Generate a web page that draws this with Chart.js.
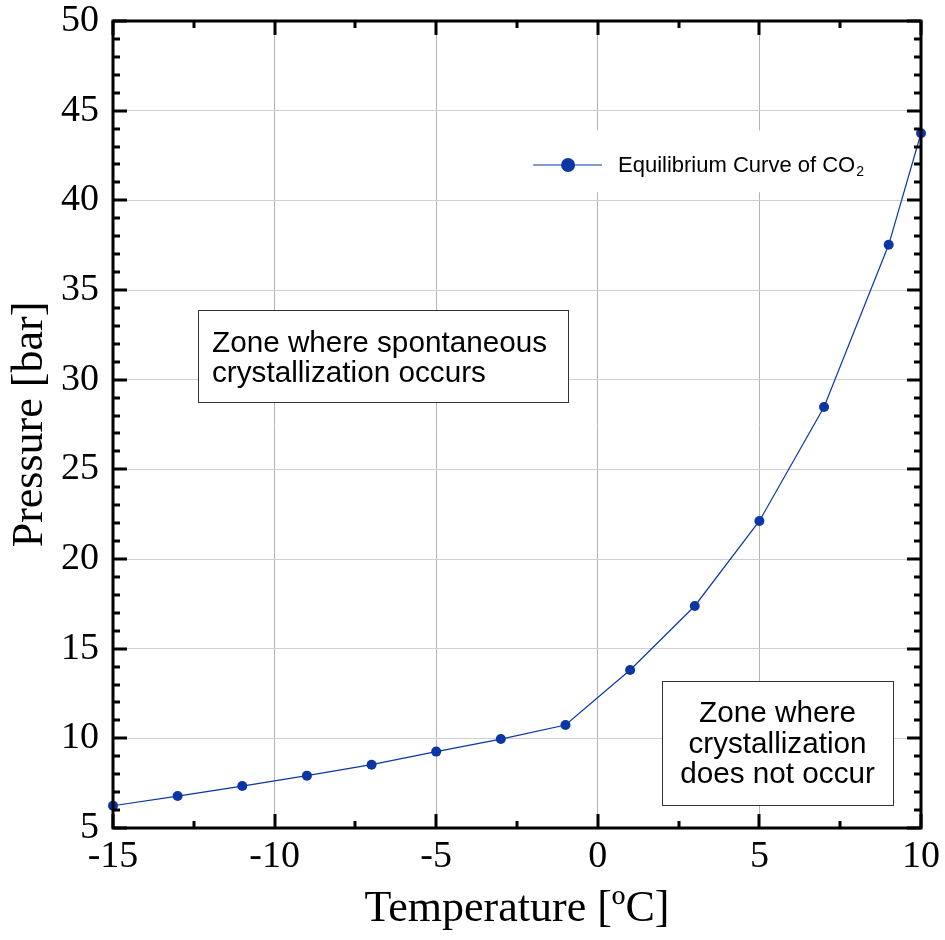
<!DOCTYPE html>
<html>
<head>
<meta charset="utf-8">
<script src="https://cdn.jsdelivr.net/npm/chart.js@4.4.0/dist/chart.umd.min.js"></script>
<style>
  html, body { margin: 0; padding: 0; background: #fff; }
</style>
</head>
<body>
<canvas id="co2Chart" width="945" height="940"></canvas>
<script>
// data
var temperatures = [-15, -13, -11, -9, -7, -5, -3, -1, 1, 3, 5, 7, 9, 10];
var pressures = [6.24, 6.78, 7.34, 7.92, 8.53, 9.26, 9.96, 10.74, 13.81, 17.38, 22.12, 28.48, 37.52, 43.74];
var seriesLabel = 'Equilibrium Curve of CO';
var seriesSub = '2';
var xTitle = 'Temperature [\u00baC]';
var yTitle = 'Pressure [bar]';
var zoneAbove = ['Zone where spontaneous', 'crystallization occurs'];
var zoneBelow = ['Zone where', 'crystallization', 'does not occur'];

var blue = '#0a37a3';
var serif = '"Liberation Serif", "Times New Roman", serif';
var sans = '"Liberation Sans", Arial, sans-serif';

// frame, inward ticks, zone boxes and legend
var decorPlugin = {
    id: 'decor',
    beforeDatasetsDraw: function (chart) {
        var ctx = chart.ctx, x = chart.scales.x, y = chart.scales.y;
        ctx.save();
        ctx.font = '29.7px ' + sans;
        ctx.strokeStyle = '#333';
        ctx.lineWidth = 1;
        ctx.textBaseline = 'alphabetic';

        // upper-left zone box
        var l = Math.round(x.getPixelForValue(-12.37)), r = Math.round(x.getPixelForValue(-0.92));
        var t = Math.round(y.getPixelForValue(33.9)), b = Math.round(y.getPixelForValue(28.76));
        ctx.fillStyle = '#fff';
        ctx.fillRect(l, t, r - l, b - t);
        ctx.strokeRect(l + 0.5, t + 0.5, r - l, b - t);
        ctx.fillStyle = '#000';
        ctx.textAlign = 'left';
        zoneAbove.forEach(function (line, i) {
            ctx.fillText(line, l + 14, t + 42 + i * 30);
        });

        // lower-right zone box
        l = Math.round(x.getPixelForValue(2.0)); r = Math.round(x.getPixelForValue(9.12));
        t = Math.round(y.getPixelForValue(13.2)); b = Math.round(y.getPixelForValue(6.29));
        ctx.fillStyle = '#fff';
        ctx.fillRect(l, t, r - l, b - t);
        ctx.strokeRect(l + 0.5, t + 0.5, r - l, b - t);
        ctx.fillStyle = '#000';
        ctx.textAlign = 'center';
        zoneBelow.forEach(function (line, i) {
            ctx.fillText(line, (l + r) / 2, t + 41 + i * 30.5);
        });

        // legend background
        var lx = x.getPixelForValue(-2.41), rx = x.getPixelForValue(8.73);
        var ly = y.getPixelForValue(43.9), by = y.getPixelForValue(40.45);
        ctx.fillStyle = '#fff';
        ctx.fillRect(lx, ly, rx - lx, by - ly);
        ctx.restore();
    },
    afterDraw: function (chart) {
        var ctx = chart.ctx, a = chart.chartArea, x = chart.scales.x, y = chart.scales.y;
        ctx.save();

        // legend entry
        var ds = chart.data.datasets[0];
        var cy = Math.round(y.getPixelForValue(41.98));
        ctx.strokeStyle = ds.borderColor;
        ctx.lineWidth = 1.2;
        ctx.beginPath();
        ctx.moveTo(x.getPixelForValue(-2.0), cy);
        ctx.lineTo(x.getPixelForValue(0.13), cy);
        ctx.stroke();
        ctx.fillStyle = ds.pointBackgroundColor;
        ctx.beginPath();
        ctx.arc(x.getPixelForValue(-0.92), cy, 7, 0, Math.PI * 2);
        ctx.fill();
        ctx.fillStyle = '#000';
        ctx.font = '22px ' + sans;
        ctx.textAlign = 'left';
        ctx.textBaseline = 'alphabetic';
        var tx = x.getPixelForValue(0.625);
        ctx.fillText(ds.label, tx, cy + 7);
        var w = ctx.measureText(ds.label).width;
        ctx.font = '14px ' + sans;
        ctx.fillText(seriesSub, tx + w + 1, cy + 11);

        // inward tick marks on all four sides
        ctx.strokeStyle = '#000';
        ctx.lineWidth = 3;
        ctx.lineCap = 'butt';
        ctx.beginPath();
        for (var v = x.min; v <= x.max + 0.001; v += 2.5) {
            var px = Math.round(x.getPixelForValue(v));
            var len = (Math.abs(v % 5) < 0.001) ? 14 : 7;
            ctx.moveTo(px, a.bottom); ctx.lineTo(px, a.bottom - len);
            ctx.moveTo(px, a.top); ctx.lineTo(px, a.top + len);
        }
        for (var u = y.min; u <= y.max + 0.001; u += 1) {
            var py = Math.round(y.getPixelForValue(u));
            var ln = (u % 5 === 0) ? 14 : 7;
            ctx.moveTo(a.left, py); ctx.lineTo(a.left + ln, py);
            ctx.moveTo(a.right, py); ctx.lineTo(a.right - ln, py);
        }
        ctx.stroke();

        // frame
        ctx.strokeRect(a.left, a.top, a.right - a.left, a.bottom - a.top);
        ctx.restore();
    }
};

var ctx = document.getElementById('co2Chart').getContext('2d');
new Chart(ctx, {
    type: 'line',
    data: {
        datasets: [{
            label: seriesLabel,
            data: temperatures.map(function (t, i) { return { x: t, y: pressures[i] }; }),
            borderColor: blue,
            backgroundColor: blue,
            pointBackgroundColor: blue,
            pointBorderWidth: 0,
            pointRadius: 5,
            borderWidth: 1.2,
            tension: 0,
            fill: false,
            clip: false
        }]
    },
    options: {
        responsive: false,
        animation: false,
        devicePixelRatio: 1,
        layout: { padding: { top: 21, right: 24, left: 0, bottom: 0 } },
        plugins: {
            legend: { display: false },
            tooltip: { enabled: false }
        },
        scales: {
            x: {
                type: 'linear',
                min: -15,
                max: 10,
                afterFit: function (scale) {
                    scale.height = 112;
                    scale.paddingLeft = 0;
                    scale.paddingRight = 0;
                },
                ticks: {
                    stepSize: 5,
                    padding: 10,
                    color: '#000',
                    font: { family: serif, size: 38, lineHeight: 1 }
                },
                grid: {
                    drawTicks: false,
                    lineWidth: 1,
                    color: function (c) {
                        var v = c.tick ? c.tick.value : null;
                        return (v === -15 || v === 10) ? 'rgba(0,0,0,0)' : '#b4b4b4';
                    }
                },
                border: { display: false },
                title: {
                    display: true,
                    text: xTitle,
                    color: '#000',
                    font: { family: serif, size: 44, lineHeight: 1.2 },
                    padding: { top: 0, bottom: 4 }
                }
            },
            y: {
                type: 'linear',
                min: 5,
                max: 50,
                afterFit: function (scale) {
                    scale.width = 113;
                    scale.paddingTop = 0;
                    scale.paddingBottom = 0;
                },
                ticks: {
                    stepSize: 5,
                    padding: 14,
                    color: '#000',
                    font: { family: serif, size: 38, lineHeight: 1 }
                },
                grid: {
                    drawTicks: false,
                    lineWidth: 1,
                    color: function (c) {
                        var v = c.tick ? c.tick.value : null;
                        return (v === 5 || v === 50) ? 'rgba(0,0,0,0)' : '#cfcfcf';
                    }
                },
                border: { display: false },
                title: {
                    display: true,
                    text: yTitle,
                    color: '#000',
                    font: { family: serif, size: 44, lineHeight: 1.2 },
                    padding: { top: 4, bottom: 0 }
                }
            }
        }
    },
    plugins: [decorPlugin]
});
</script>
</body>
</html>
